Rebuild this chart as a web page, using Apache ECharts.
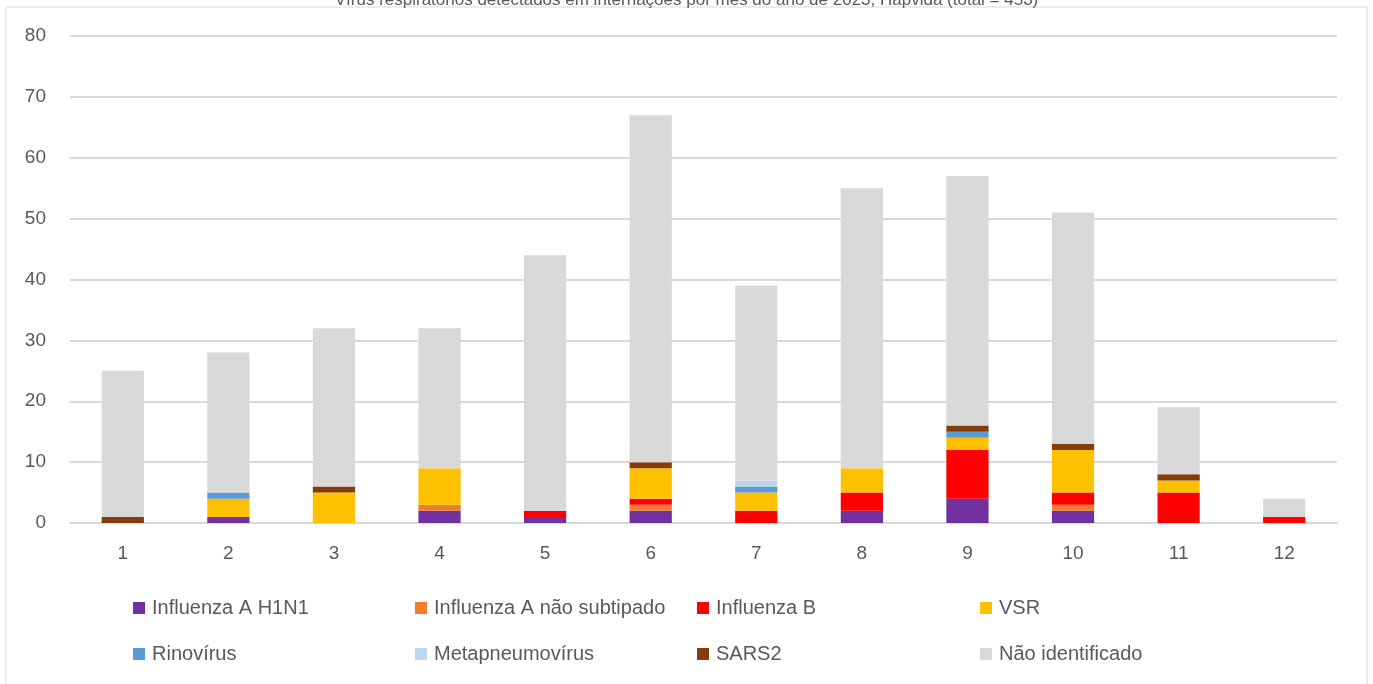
<!DOCTYPE html>
<html>
<head>
<meta charset="utf-8">
<script src="https://cdn.jsdelivr.net/npm/echarts@6/dist/echarts.min.js"></script>
<style>
  html, body { margin: 0; padding: 0; background: #fff; }
  #chart { width: 1373px; height: 684px; }
</style>
</head>
<body>
<div id="chart"></div>
<script>
// Months 1..12
const categories = ['1', '2', '3', '4', '5', '6', '7', '8', '9', '10', '11', '12'];

// Cases per agent, stacked per month
const influenzaH1N1      = [0, 1, 0, 2, 1, 2, 0, 2, 4, 2, 0, 0];
const influenzaANaoSub   = [0, 0, 0, 1, 0, 1, 0, 0, 0, 1, 0, 0];
const influenzaB         = [0, 0, 0, 0, 1, 1, 2, 3, 8, 2, 5, 1];
const vsr                = [0, 3, 5, 6, 0, 5, 3, 4, 2, 7, 2, 0];
const rinovirus          = [0, 1, 0, 0, 0, 0, 1, 0, 1, 0, 0, 0];
const metapneumovirus    = [0, 0, 0, 0, 0, 0, 1, 0, 0, 0, 0, 0];
const sars2              = [1, 0, 1, 0, 0, 1, 0, 0, 1, 1, 1, 0];
const naoIdentificado    = [24, 23, 26, 23, 42, 57, 32, 46, 41, 38, 11, 3];

const yTicks = [0, 10, 20, 30, 40, 50, 60, 70, 80];

const seriesDefs = [
  { name: 'Influenza A H1N1', data: influenzaH1N1, color: '#7030A0' },
  { name: 'Influenza A não subtipado', data: influenzaANaoSub, color: '#ED7D31' },
  { name: 'Influenza B', data: influenzaB, color: '#FF0000' },
  { name: 'VSR', data: vsr, color: '#FFC000' },
  { name: 'Rinovírus', data: rinovirus, color: '#5B9BD5' },
  { name: 'Metapneumovírus', data: metapneumovirus, color: '#BDD7EE' },
  { name: 'SARS2', data: sars2, color: '#843C0C' },
  { name: 'Não identificado', data: naoIdentificado, color: '#D9D9D9' }
];

const FONT = 'Liberation Sans';
const TEXT_COLOR = '#595959';

// One legend per entry so the entries sit on a fixed 4-column grid
const legendCols = [128, 410, 692, 975];
const legendRows = [593, 639];
const legends = seriesDefs.map((s, i) => ({
  data: [s.name],
  left: legendCols[i % 4],
  top: legendRows[Math.floor(i / 4)],
  itemWidth: 12,
  itemHeight: 12,
  itemGap: 0,
  icon: 'rect',
  selectedMode: false,
  textStyle: { fontFamily: FONT, fontSize: 20, color: TEXT_COLOR, padding: [0, 0, 0, 2] }
}));

const option = {
  animation: false,
  backgroundColor: '#fff',
  title: {
    text: 'Vírus respiratórios detectados em internações por mês do ano de 2023, Hapvida (total = 453)',
    left: 'center',
    top: -13,
    textStyle: { fontFamily: FONT, fontSize: 17, fontWeight: 'normal', color: TEXT_COLOR }
  },
  graphic: [{
    type: 'rect',
    shape: { x: 6, y: 7, width: 1361, height: 700 },
    style: { fill: 'none', stroke: '#D9D9D9', lineWidth: 1 },
    silent: true,
    z: -1
  }],
  legend: legends,
  grid: { left: 70, right: 36, top: 36, bottom: 161, containLabel: false },
  xAxis: {
    type: 'category',
    data: categories,
    axisTick: { show: false },
    axisLine: { show: true, lineStyle: { color: '#D9D9D9', width: 2 } },
    axisLabel: { fontFamily: FONT, fontSize: 19, color: TEXT_COLOR, margin: 21 }
  },
  yAxis: {
    type: 'value',
    min: yTicks[0],
    max: yTicks[yTicks.length - 1],
    interval: yTicks[1] - yTicks[0],
    axisLine: { show: false },
    axisTick: { show: false },
    splitLine: { lineStyle: { color: '#D9D9D9', width: 2 } },
    axisLabel: { fontFamily: FONT, fontSize: 19, color: TEXT_COLOR, margin: 24 }
  },
  series: seriesDefs.map(s => ({
    name: s.name,
    type: 'bar',
    stack: 'total',
    data: s.data,
    barWidth: '40%',
    itemStyle: { color: s.color },
    emphasis: { disabled: true }
  }))
};

const chart = echarts.init(document.getElementById('chart'), null, { renderer: 'canvas' });
chart.setOption(option);
</script>
</body>
</html>
